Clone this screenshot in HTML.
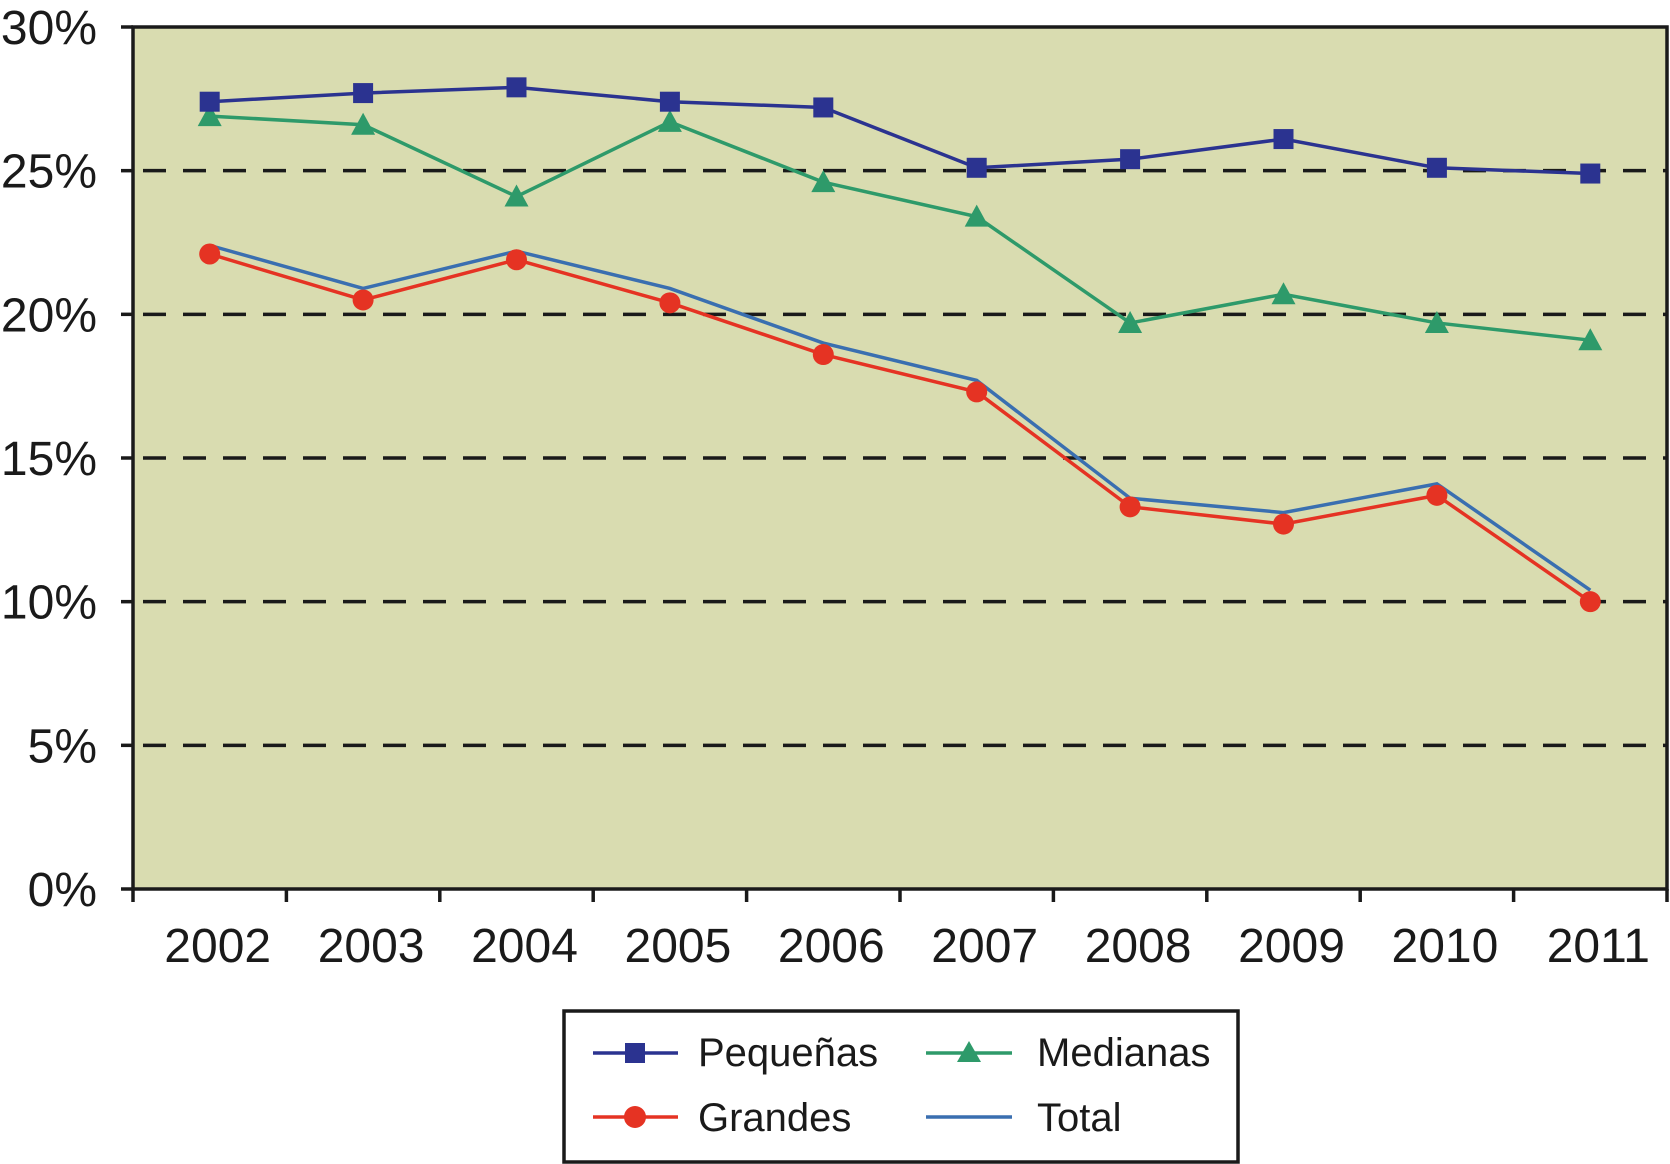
<!DOCTYPE html>
<html><head><meta charset="utf-8"><style>
html,body{margin:0;padding:0;background:#fff;}
svg{display:block;font-family:"Liberation Sans",Arial,sans-serif;}
</style></head><body>
<svg id="chart" width="1670" height="1164" viewBox="0 0 1670 1164">
<rect x="133" y="27" width="1534" height="862" fill="#d9dcb0"/>
<g id="grid"></g>
<g id="series"></g>
<rect x="133" y="27" width="1534" height="862" fill="none" stroke="#1a1a1a" stroke-width="3.5"/>
<g id="axes"></g>
<g>
<rect x="564" y="1011" width="674" height="151" fill="#fff" stroke="#1a1a1a" stroke-width="3.5"/>
<g>
<line x1="593" y1="1053" x2="678" y2="1053" stroke="#2b3390" stroke-width="3.5"/>
<rect x="625" y="1043" width="20" height="20" fill="#2b3390"/>
<text x="698" y="1066" font-size="40" fill="#1a1a1a">Pequeñas</text></g>
<g>
<line x1="926" y1="1053" x2="1012" y2="1053" stroke="#2e9a6a" stroke-width="3.5"/>
<polygon points="969,1041 981,1062 957,1062" fill="#2e9a6a"/>
<text x="1037" y="1066" font-size="40" fill="#1a1a1a">Medianas</text></g>
<g>
<line x1="593" y1="1117" x2="678" y2="1117" stroke="#e53323" stroke-width="3.5"/>
<circle cx="635" cy="1117" r="11" fill="#e53323"/>
<text x="698" y="1131" font-size="40" fill="#1a1a1a">Grandes</text></g>
<g>
<line x1="926" y1="1117" x2="1012" y2="1117" stroke="#3a6fb0" stroke-width="3.5"/>
<text x="1037" y="1131" font-size="40" fill="#1a1a1a">Total</text></g>
</g>
</svg>
<script>
const years = ["2002","2003","2004","2005","2006","2007","2008","2009","2010","2011"];
const pequenas = [27.4,27.7,27.9,27.4,27.2,25.1,25.4,26.1,25.1,24.9];
const medianas = [26.9,26.6,24.1,26.7,24.6,23.4,19.7,20.7,19.7,19.1];
const grandes = [22.1,20.5,21.9,20.4,18.6,17.3,13.3,12.7,13.7,10.0];
const total = [22.4,20.9,22.2,20.9,19.0,17.7,13.6,13.1,14.1,10.4];
const yTicks = [0,5,10,15,20,25,30];
const yTickLabels = ["0%","5%","10%","15%","20%","25%","30%"];

const NS="http://www.w3.org/2000/svg";
const L=133,R=1667,T=27,B=889;
const step=(R-L)/years.length;
function xPos(i){return L+step*(i+0.5);}
function yPos(v){return B-(v/30)*(B-T);}
function mk(tag,attrs,parent){const e=document.createElementNS(NS,tag);for(const k in attrs)e.setAttribute(k,attrs[k]);parent.appendChild(e);return e;}
const grid=document.getElementById('grid'),axes=document.getElementById('axes'),series=document.getElementById('series');

yTicks.forEach((v,i)=>{
  const y=yPos(v);
  if(v>0&&v<30){const g=mk('line',{x1:L,x2:R,y1:y,y2:y,stroke:'#1a1a1a','stroke-width':3.5,'stroke-dasharray':'23 17','stroke-dashoffset':'-10'},grid);
  
  }
  mk('line',{x1:L-12,x2:L,y1:y,y2:y,stroke:'#1a1a1a','stroke-width':3.5},axes);
  const t=mk('text',{x:97,y:y+17,'text-anchor':'end','font-size':48,fill:'#1a1a1a'},axes);
  t.textContent=yTickLabels[i];
  
  
});
for(let i=0;i<=years.length;i++){
  const x=L+step*i;
  mk('line',{x1:x,x2:x,y1:B,y2:B+13,stroke:'#1a1a1a','stroke-width':3.5},axes);
}
years.forEach((yr,i)=>{
  const t=mk('text',{x:xPos(i)+8,y:962,'text-anchor':'middle','font-size':48,fill:'#1a1a1a'},axes);
  t.textContent=yr;
  
  
});

function drawLine(vals,color,name,marker){
  const g=mk('g',{},series);
  
  
  const pts=vals.map((v,i)=>xPos(i)+','+yPos(v)).join(' ');
  mk('polyline',{points:pts,fill:'none',stroke:color,'stroke-width':3.5},g);
  vals.forEach((v,i)=>{
    const x=xPos(i),y=yPos(v);let m=null;
    if(marker==='square')m=mk('rect',{x:x-10,y:y-10,width:20,height:20,fill:color},g);
    else if(marker==='tri')m=mk('polygon',{points:`${x},${y-12} ${x+12},${y+10} ${x-12},${y+10}`,fill:color},g);
    else if(marker==='circle')m=mk('circle',{cx:x,cy:y,r:10.5,fill:color},g);
    if(m){
    }
  });
}
drawLine(total,'#3a6fb0','total',null);
drawLine(grandes,'#e53323','grandes','circle');
drawLine(medianas,'#2e9a6a','medianas','tri');
drawLine(pequenas,'#2b3390','pequenas','square');
</script>
</body></html>
